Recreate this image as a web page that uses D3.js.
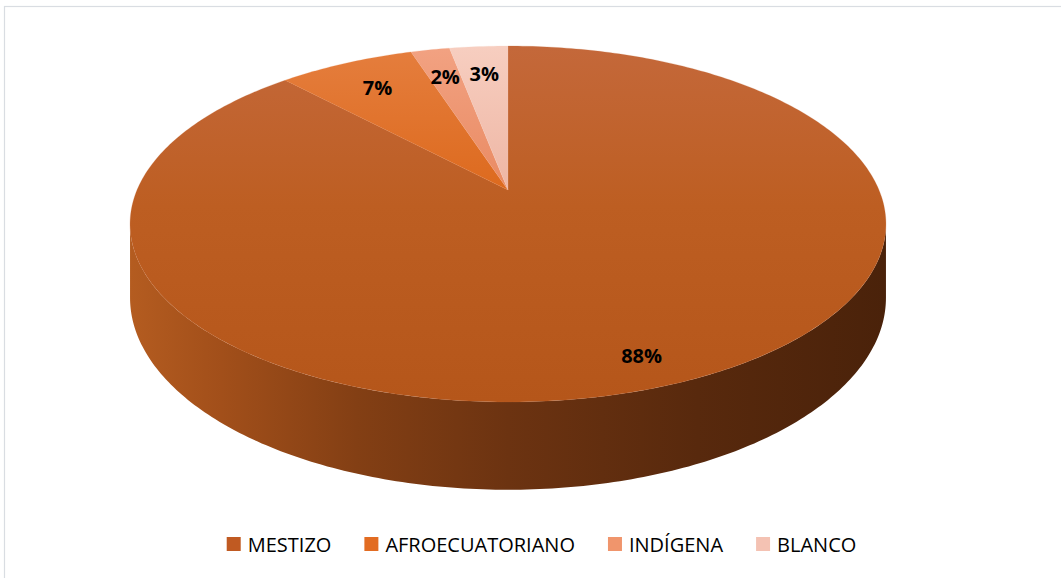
<!DOCTYPE html>
<html><head><meta charset="utf-8">
<script src="https://cdn.jsdelivr.net/npm/d3@7/dist/d3.min.js"></script>
<style>html,body{margin:0;padding:0;background:#fff;overflow:hidden}</style>
</head><body>
<svg id="c" width="1061" height="578"></svg>
<script>
const categories = ["MESTIZO", "AFROECUATORIANO", "INDÍGENA", "BLANCO"];
const values = [88, 7, 2, 3];
const labels = ["88%", "7%", "2%", "3%"];
const topLight = ["#C4683A", "#E57E3E", "#F2A282", "#F7CEC0"];
const topDark = ["#B5561A", "#DD6A1E", "#E98A62", "#EEB6A4"];
const legendColors = ["#C05A22", "#E26C22", "#F0956C", "#F4C2B3"];

const svg = d3.select("#c");

// frame
svg.append("rect").attr("x", 4.5).attr("y", 6.5).attr("width", 1100).attr("height", 600)
  .attr("fill", "#fff").attr("stroke", "#D9DDE2").attr("stroke-width", 1.2);

// perspective disk projection
const cx = 508, cy = 190, A = 371, B = 171.5, k = 0.191, D = 71;
function proj(r, a, drop) {
  const u = r * Math.sin(a), v = r * Math.cos(a);
  const w = 1 + k * v;
  return [cx + A * u / w, cy - B * v / w + drop / w];
}

const pie = d3.pie().sort(null).value(d => d)(values);
const line = d3.line();
const defs = svg.append("defs");

// side wall
const aL = Math.acos(-k), aR = 2 * Math.PI - Math.acos(-k);
const sg = defs.append("linearGradient").attr("id", "side").attr("gradientUnits", "userSpaceOnUse")
  .attr("x1", 130).attr("x2", 887).attr("y1", 0).attr("y2", 0);
[[0, "#B45C20"], [0.12, "#A24F1A"], [0.3, "#833F14"], [0.5, "#6C3311"], [0.75, "#58290D"], [1, "#4A220A"]]
  .forEach(s => sg.append("stop").attr("offset", s[0]).attr("stop-color", s[1]));
const sidePts = [];
const N = 200;
for (let i = 0; i <= N; i++) sidePts.push(proj(1, aL + (aR - aL) * i / N, 0));
for (let i = N; i >= 0; i--) sidePts.push(proj(1, aL + (aR - aL) * i / N, D));
svg.append("path").attr("d", line(sidePts) + "Z").attr("fill", "url(#side)");

// top faces
pie.forEach((p, i) => {
  const g = defs.append("linearGradient").attr("id", "tg" + i).attr("gradientUnits", "userSpaceOnUse")
    .attr("x1", 0).attr("x2", 0).attr("y1", 46).attr("y2", i === 0 ? 402 : 190);
  g.append("stop").attr("offset", 0).attr("stop-color", topLight[i]);
  g.append("stop").attr("offset", i === 0 ? 0.45 : 1).attr("stop-color", i === 0 ? "#BD5E22" : topDark[i]);
  if (i === 0) g.append("stop").attr("offset", 1).attr("stop-color", topDark[i]);
  const pts = [proj(0, 0, 0)];
  const n = Math.max(4, Math.ceil((p.endAngle - p.startAngle) / (2 * Math.PI) * 400));
  for (let j = 0; j <= n; j++) pts.push(proj(1, p.startAngle + (p.endAngle - p.startAngle) * j / n, 0));
  svg.append("path").attr("d", line(pts) + "Z").attr("fill", "url(#tg" + i + ")")
    .attr("stroke", topLight[i]).attr("stroke-opacity", 0.35).attr("stroke-width", 0.6);
});

// data labels
pie.forEach((p, i) => {
  const mid = (p.startAngle + p.endAngle) / 2;
  const r = values[i] > 50 ? 0.87 : 0.78;
  const [x, y] = proj(r, mid + (values[i] > 50 ? 0.02 : 0), 0);
  svg.append("text").attr("x", x).attr("y", y).attr("text-anchor", "middle").attr("dy", "0.36em")
    .attr("font-family", "'Open Sans', sans-serif").attr("font-weight", 700).attr("font-size", 20)
    .attr("fill", "#000").text(labels[i]);
});

// legend
const lg = svg.append("g");
let lx = 0;
categories.forEach((c, i) => {
  const it = lg.append("g").attr("transform", `translate(${lx},0)`);
  it.append("rect").attr("x", 0).attr("y", 537).attr("width", 14).attr("height", 14).attr("fill", legendColors[i]);
  const t = it.append("text").attr("x", 21).attr("y", 552).attr("font-family", "'Open Sans', sans-serif")
    .attr("font-size", 20).attr("fill", "#000").text(c);
  lx += 21 + t.node().getComputedTextLength() + 33;
});
const totalW = lx - 33;
lg.attr("transform", `translate(${541.5 - totalW / 2},0)`);
</script>
</body></html>
